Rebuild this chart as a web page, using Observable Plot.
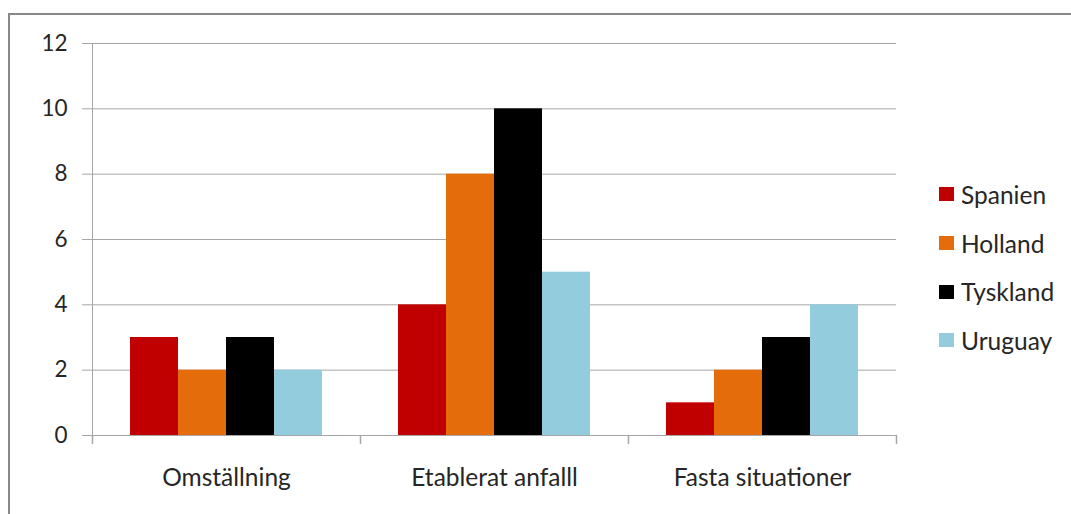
<!DOCTYPE html>
<html>
<head>
<meta charset="utf-8">
<script src="https://cdn.jsdelivr.net/npm/d3@7"></script>
<script src="https://cdn.jsdelivr.net/npm/@observablehq/plot@0.6"></script>
<style>
  html, body { margin: 0; padding: 0; background: #fff; }
  #wrap { position: relative; width: 1071px; height: 514px; overflow: hidden; background: #fff; font-family: Lato, "Open Sans", sans-serif; }
  #chart { position: absolute; left: 0; top: 0; }
  #border { position: absolute; left: 8px; top: 13px; width: 1200px; height: 700px; border: 2px solid #888; pointer-events: none; }
  #legend { position: absolute; left: 939px; top: 170px; }
  .row { display: flex; align-items: center; height: 48.7px; font-size: 24.5px; color: #262626; }
  .sw { width: 15px; height: 14px; margin-right: 7px; }
</style>
</head>
<body>
<div id="wrap">
  <div id="chart"></div>
  <div id="border"></div>
  <div id="legend"></div>
</div>
<script>
const categories = ["Omställning", "Etablerat anfalll", "Fasta situationer"];
const series = ["Spanien", "Holland", "Tyskland", "Uruguay"];
const spanien = [3, 4, 1];
const holland = [2, 8, 2];
const tyskland = [3, 10, 3];
const uruguay = [2, 5, 4];
const colors = ["#C00000", "#E46C0A", "#000000", "#93CDDD"];
const yTicks = [0, 2, 4, 6, 8, 10, 12];

const seriesValues = [spanien, holland, tyskland, uruguay];
const data = [];
categories.forEach((c, ci) => {
  series.forEach((s, si) => data.push({category: c, series: s, value: seriesValues[si][ci]}));
});

const tickShape = { draw(context, l) { context.moveTo(0, 0); context.lineTo(0, -l); } };
const gray = "#a6a6a6";

const chart = Plot.plot({
  width: 1071,
  height: 514,
  marginLeft: 91,
  marginRight: 175,
  marginTop: 43,
  marginBottom: 79,
  style: { fontFamily: "Lato, 'Open Sans', sans-serif", fontSize: "22.5px", background: "transparent", color: "#262626" },
  fx: { domain: categories, padding: 0, axis: null },
  x: { domain: series, paddingInner: 0, paddingOuter: 0.735, axis: null },
  y: { domain: [0, 12], axis: null },
  color: { domain: series, range: colors },
  marks: [
    Plot.gridY(yTicks, { stroke: gray, strokeOpacity: 1 }),
    Plot.axisY(yTicks, { tickSize: 10, tickPadding: 15, stroke: gray, strokeOpacity: 1, fill: "#262626", label: null }),
    Plot.frame({ anchor: "left", facetAnchor: "left", stroke: gray }),
    Plot.barY(data, { fx: "category", x: "series", y: "value", fill: "series" }),
    Plot.ruleY([0], { stroke: gray }),
    Plot.vector(categories, { fx: d => d, frameAnchor: "bottom-left", length: 8, rotate: 180, anchor: "start", shape: tickShape, stroke: gray }),
    Plot.vector(categories.slice(-1), { fx: d => d, frameAnchor: "bottom-right", length: 8, rotate: 180, anchor: "start", shape: tickShape, stroke: gray }),
    Plot.axisFx({ anchor: "bottom", tickSize: 0, tickPadding: 33, fontSize: 24.5, fill: "#262626", label: null })
  ]
});
document.getElementById("chart").appendChild(chart);

const legend = document.getElementById("legend");
series.forEach((s, i) => {
  const row = document.createElement("div");
  row.className = "row";
  const sw = document.createElement("span");
  sw.className = "sw";
  sw.style.background = colors[i];
  const t = document.createElement("span");
  t.textContent = s;
  row.appendChild(sw);
  row.appendChild(t);
  legend.appendChild(row);
});
</script>
</body>
</html>
